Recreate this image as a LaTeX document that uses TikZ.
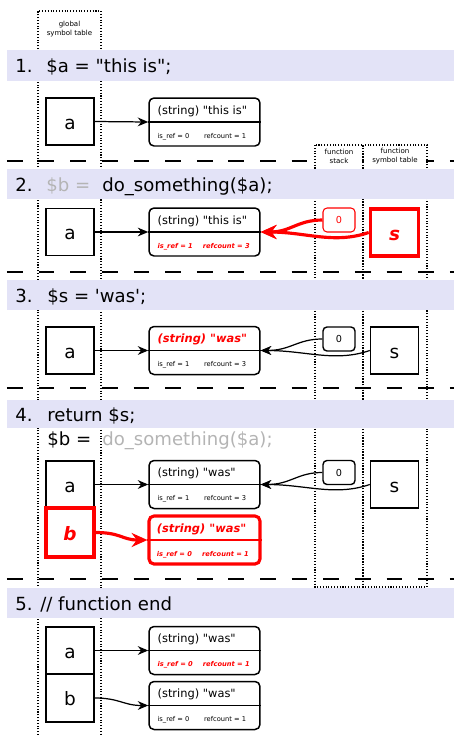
\documentclass[tikz,border=0pt]{standalone}
\usepackage{fontspec}
\setmainfont{DejaVu Sans}
\usetikzlibrary{arrows.meta,calc,positioning}

\definecolor{bandblue}{RGB}{227,227,247}
\definecolor{fadegray}{RGB}{180,180,180}

\newcommand{\hot}{\color{red}\bfseries\itshape}
\newcommand{\dq}{\textquotedbl}
% value box: name, centre, box style, top text, bottom text
\newcommand{\zvalue}[5]{%
  \node[#3] (#1) at (#2) {};
  \draw[#3,line width=0.7pt] (#1.west) -- (#1.east);
  \node[valtop] (#1t) at ($(#1.west)+(9,-8)$) {#4};
  \node[valbot] (#1b) at ($(#1.west)+(9,16)$) {#5};
}

\begin{document}
\begin{tikzpicture}[x=0.02cm,y=-0.02cm,
    >={Stealth[length=6pt,width=5pt,inset=2pt]},
    band/.style={fill=bandblue,draw=none},
    stmt/.style={anchor=base west,inner sep=0pt,font=\fontsize{10.3}{12}\selectfont},
    sep/.style={line width=1.1pt,dash pattern=on 9pt off 9pt},
    tbl/.style={densely dotted,line width=0.6pt},
    tbllabel/.style={align=center,inner sep=0pt,font=\fontsize{4}{5}\selectfont},
    symbox/.style={draw,line width=0.85pt,minimum width=0.96cm,minimum height=0.94cm,
      inner sep=0pt,text height=9pt,text depth=0pt,font=\fontsize{10.5}{12}\selectfont},
    hotsym/.style={symbox,draw=red,line width=2pt,font=\fontsize{10.5}{12}\selectfont\hot},
    valbox/.style={draw,line width=0.85pt,rounded corners=0.1cm,minimum width=2.22cm,minimum height=0.96cm},
    hotval/.style={valbox,draw=red,line width=1.8pt},
    valtop/.style={anchor=base west,inner sep=0pt,font=\fontsize{6.5}{8}\selectfont},
    valbot/.style={anchor=base west,inner sep=0pt,font=\fontsize{3.8}{4.5}\selectfont},
    zbox/.style={draw,line width=0.8pt,rounded corners=0.08cm,minimum width=0.64cm,minimum height=0.48cm,
      inner sep=0pt,font=\fontsize{5.5}{6}\selectfont},
    hotz/.style={zbox,draw=red,text=red,line width=0.6pt},
    ptr/.style={->,line width=0.7pt},
    hotptr/.style={->,>={Stealth[length=9pt,width=8pt,inset=3pt]},red,line width=1.8pt}]
\useasboundingbox (0,0) rectangle (454,735);

% symbol tables
\draw[tbl] (38,735) -- (38,11) -- (101,11) -- (101,735);
\node[tbllabel] (gst) at (69.5,29) {global\\symbol table};
\draw[tbl] (315,145) rectangle (363,587);
\draw[tbl] (363,145) rectangle (427,587);

% separators
\foreach \y in {161,272,388,579}
  \draw[sep] (7,\y) -- (454,\y);

\node[tbllabel,fill=white,minimum width=0.92cm,minimum height=0.36cm] (fst) at (339,156) {function\\stack};
\node[tbllabel,fill=white,minimum width=1.24cm,minimum height=0.36cm] (fsym) at (395,156) {function\\symbol table};

% step bands
\foreach \t/\b in {50/81,169/199,280/310,400/428,588/618}
  \fill[band] (7,\t) rectangle (454,\b);

% statements
\node[stmt] (n1) at (15,72.5) {1.};
\node[stmt] (c1) at (46,72.5) {\$a = \dq this is\dq;};
\node[stmt] (n2) at (15,191) {2.};
\node[stmt,text=fadegray] (c2) at (46,191) {\$b =};
\node[stmt] (c2b) at (102,191) {do\_something(\$a);};
\node[stmt] (n3) at (15,302) {3.};
\node[stmt] (c3) at (47,302) {\$s = \textquotesingle was\textquotesingle;};
\node[stmt] (n4) at (15,421) {4.};
\node[stmt] (c4) at (47,421) {return \$s;};
\node[stmt] (c4b) at (47,445) {\$b =};
\node[stmt,text=fadegray] (c4c) at (102,445) {do\_something(\$a);};
\node[stmt] (n5) at (15,610) {5. // function end};

% step 1
\node[symbox] (a1) at (70,121.5) {a};
\zvalue{v1}{204.5,122}{valbox}{(string) \dq this is\dq}{is\_ref = 0\hspace{2.2em}refcount = 1}
\draw[ptr] (a1.east) -- (v1.west);

% step 2
\node[symbox] (a2) at (70,232) {a};
\zvalue{v2}{204.5,232}{valbox}{(string) \dq this is\dq}{\hot is\_ref = 1\hspace{1.5em}refcount = 3}
\node[hotz] (z2) at (339,220) {0};
\node[hotsym] (s2) at (394.5,232.5) {s};
\draw[ptr] (a2.east) -- (v2.west);
\draw[hotptr] (z2.west) .. controls +(-25,0) and +(30,0) .. (v2.east);
\draw[hotptr] (s2.west) .. controls +(-35,12) and +(45,0) .. (v2.east);

% step 3
\node[symbox] (a3) at (70,350.5) {a};
\zvalue{v3}{204.5,350.5}{valbox}{\hot (string) \dq was\dq}{is\_ref = 1\hspace{2.2em}refcount = 3}
\node[zbox] (z3) at (339,339) {0};
\node[symbox] (s3) at (394.5,350.5) {s};
\draw[ptr] (a3.east) -- (v3.west);
\draw[ptr] (z3.west) .. controls +(-25,0) and +(30,0) .. (v3.east);
\draw[ptr] (s3.west) .. controls +(-35,12) and +(45,0) .. (v3.east);

% step 4
\node[symbox] (a4) at (70,484.5) {a};
\node[hotsym,minimum height=0.98cm] (b4) at (70,532.5) {b};
\zvalue{v4}{204.5,484.5}{valbox}{(string) \dq was\dq}{is\_ref = 1\hspace{2.2em}refcount = 3}
\zvalue{w4}{204.5,540}{hotval}{\hot (string) \dq was\dq}{\hot is\_ref = 0\hspace{1.5em}refcount = 1}
\node[zbox] (z4) at (339,472.5) {0};
\node[symbox] (s4) at (394.5,484.5) {s};
\draw[ptr] (a4.east) -- (v4.west);
\draw[hotptr] (b4.east) .. controls +(25,0) and +(-25,0) .. (w4.west);
\draw[ptr] (z4.west) .. controls +(-25,0) and +(30,0) .. (v4.east);
\draw[ptr] (s4.west) .. controls +(-35,12) and +(45,0) .. (v4.east);

% step 5
\node[symbox] (a5) at (70,650.5) {a};
\node[symbox,minimum height=0.96cm] (b5) at (70,698) {b};
\zvalue{v5}{204.5,650.5}{valbox}{(string) \dq was\dq}{\hot is\_ref = 0\hspace{1.5em}refcount = 1}
\zvalue{w5}{204.5,705.5}{valbox}{(string) \dq was\dq}{is\_ref = 0\hspace{2.2em}refcount = 1}
\draw[ptr] (a5.east) -- (v5.west);
\draw[ptr] (b5.east) .. controls +(25,0) and +(-25,0) .. (w5.west);

\end{tikzpicture}
\end{document}
